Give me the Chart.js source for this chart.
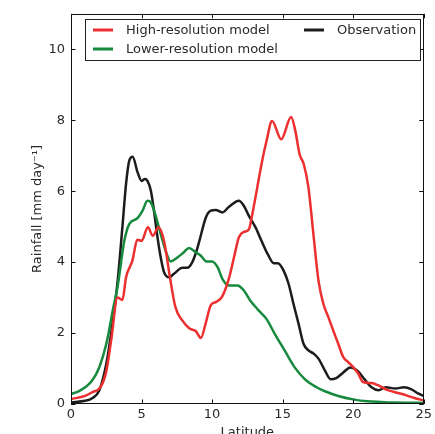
<!DOCTYPE html>
<html>
<head>
<meta charset="utf-8">
<script src="https://cdn.jsdelivr.net/npm/chart.js@4"></script>
<style>
  html, body { margin: 0; padding: 0; background: #fff; overflow: hidden; }
  #chart { display: block; width: 435px; height: 446px; }
</style>
</head>
<body>
<canvas id="chart" width="435" height="446"></canvas>
<script>
// values
const highLat = [0, 1, 1.5, 2.1, 2.5, 2.85, 3.3, 3.65, 3.9, 4.35, 4.7, 5.0, 5.45, 5.8, 6.2, 6.6, 7.05, 7.4, 7.9, 8.4, 8.85, 9.2, 9.55, 9.9, 10.3, 10.7, 11.2, 11.55, 11.9, 12.25, 12.6, 12.85, 13.2, 13.55, 13.85, 14.25, 14.9, 15.6, 15.9, 16.2, 16.5, 16.83, 17.18, 17.54, 17.89, 18.24, 18.59, 18.94, 19.3, 19.65, 20.0, 20.35, 20.7, 21.3, 21.76, 22.46, 23.4, 24.34, 25];
const highRain = [0.14, 0.23, 0.33, 0.48, 0.92, 1.8, 3.0, 2.93, 3.57, 4.04, 4.63, 4.6, 4.98, 4.74, 4.98, 4.58, 3.48, 2.73, 2.35, 2.13, 2.05, 1.86, 2.28, 2.78, 2.88, 3.02, 3.55, 4.13, 4.7, 4.85, 4.92, 5.35, 6.1, 6.86, 7.4, 7.98, 7.46, 8.09, 7.7, 7.04, 6.76, 6.1, 4.79, 3.48, 2.82, 2.45, 2.07, 1.7, 1.32, 1.18, 1.04, 0.86, 0.62, 0.59, 0.53, 0.39, 0.29, 0.17, 0.1];

const lowLat = [0, 0.5, 1, 1.5, 2, 2.5, 3, 3.3, 3.78, 4.13, 4.72, 5.07, 5.42, 5.66, 6.0, 6.35, 6.83, 7.06, 7.54, 8.0, 8.36, 8.83, 9.2, 9.6, 10.0, 10.4, 10.73, 11.2, 11.8, 12.25, 12.7, 13.3, 13.85, 14.44, 15.14, 15.84, 16.55, 17.37, 18, 19, 20, 21, 22, 23, 24, 25];
const lowRain = [0.28, 0.35, 0.47, 0.66, 1.03, 1.69, 2.72, 3.3, 4.6, 5.07, 5.24, 5.45, 5.73, 5.68, 5.31, 4.8, 4.18, 4.02, 4.13, 4.28, 4.4, 4.28, 4.18, 4.02, 4.02, 3.85, 3.53, 3.34, 3.34, 3.2, 2.92, 2.64, 2.4, 1.98, 1.51, 1.04, 0.71, 0.48, 0.36, 0.22, 0.13, 0.075, 0.056, 0.04, 0.035, 0.03];

const obsLat = [0, 1, 1.5, 2, 2.5, 2.84, 3.31, 3.66, 3.9, 4.13, 4.37, 4.72, 5.0, 5.23, 5.42, 5.66, 5.85, 6.13, 6.36, 6.6, 6.95, 7.3, 7.89, 8.24, 8.6, 8.9, 9.1, 9.56, 9.91, 10.26, 10.73, 11.2, 11.9, 12.25, 12.6, 13.08, 13.5, 14.0, 14.37, 14.67, 15.07, 15.42, 15.77, 16.13, 16.48, 16.83, 17.2, 17.54, 18.0, 18.4, 18.8, 19.3, 19.8, 20.3, 20.8, 21.3, 21.8, 22.3, 23.0, 23.6, 24.1, 24.6, 25];
const obsRain = [0.05, 0.09, 0.16, 0.38, 1.13, 1.98, 3.48, 5.07, 6.2, 6.86, 6.97, 6.53, 6.29, 6.34, 6.29, 6.01, 5.54, 4.7, 4.13, 3.71, 3.57, 3.67, 3.84, 3.84, 4.0, 4.32, 4.6, 5.26, 5.45, 5.47, 5.4, 5.56, 5.73, 5.59, 5.31, 4.98, 4.6, 4.18, 3.97, 3.97, 3.76, 3.39, 2.82, 2.26, 1.7, 1.51, 1.42, 1.28, 0.94, 0.7, 0.73, 0.89, 1.03, 0.94, 0.7, 0.47, 0.39, 0.47, 0.44, 0.47, 0.42, 0.3, 0.23];

const seriesNames = ['High-resolution model', 'Lower-resolution model', 'Observation'];
const RED = '#ec2f2f', GREEN = '#178a3e', BLACK = '#1c1c1c';
const FONT = 'DejaVu Sans';
const TXT = '#2a2a2a';

const pts = (xs, ys) => xs.map((x, i) => ({ x, y: ys[i] }));

// frame + inward ticks on all four sides, like the matplotlib original
const framePlugin = {
  id: 'frame',
  afterDatasetsDraw(chart) {
    const { ctx, chartArea: a, scales } = chart;
    const len = 4.5;
    ctx.save();
    ctx.strokeStyle = '#111';
    ctx.lineWidth = 1;
    ctx.beginPath();
    scales.x.ticks.forEach(t => {
      const px = Math.round(scales.x.getPixelForValue(t.value)) + 0.5;
      ctx.moveTo(px, a.bottom); ctx.lineTo(px, a.bottom - len);
      ctx.moveTo(px, a.top); ctx.lineTo(px, a.top + len);
    });
    scales.y.ticks.forEach(t => {
      const py = Math.round(scales.y.getPixelForValue(t.value)) + 0.5;
      ctx.moveTo(a.left, py); ctx.lineTo(a.left + len, py);
      ctx.moveTo(a.right, py); ctx.lineTo(a.right - len, py);
    });
    ctx.stroke();
    ctx.strokeRect(Math.round(a.left) + 0.5, Math.round(a.top) + 0.5,
                   Math.round(a.right - a.left) - 1, Math.round(a.bottom - a.top) - 1);
    ctx.restore();
  }
};

// two-column legend box in the upper part of the plot
const legendPlugin = {
  id: 'boxLegend',
  afterDraw(chart) {
    const { ctx, data } = chart;
    const box = { x: 85.5, y: 19.5, w: 335, h: 41 };
    const slots = [
      { lx: 93, tx: 126, y: 30 },
      { lx: 93, tx: 126, y: 49 },
      { lx: 304, tx: 337, y: 30 }
    ];
    ctx.save();
    ctx.fillStyle = '#fff';
    ctx.fillRect(box.x, box.y, box.w, box.h);
    ctx.strokeStyle = '#222';
    ctx.lineWidth = 1;
    ctx.strokeRect(box.x, box.y, box.w, box.h);
    ctx.font = `13px "${FONT}"`;
    ctx.textBaseline = 'middle';
    data.datasets.forEach((ds, i) => {
      const s = slots[i];
      ctx.strokeStyle = ds.borderColor;
      ctx.lineWidth = 3;
      ctx.beginPath();
      ctx.moveTo(s.lx, s.y); ctx.lineTo(s.lx + 20, s.y);
      ctx.stroke();
      ctx.fillStyle = TXT;
      ctx.fillText(ds.label, s.tx, s.y + 0.5);
    });
    ctx.restore();
  }
};

const lineStyle = color => ({
  borderColor: color,
  backgroundColor: color,
  borderWidth: 2.5,
  pointRadius: 0,
  fill: false,
  cubicInterpolationMode: 'monotone'
});

new Chart(document.getElementById('chart'), {
  type: 'line',
  data: {
    datasets: [
      { label: seriesNames[0], data: pts(highLat, highRain), ...lineStyle(RED) },
      { label: seriesNames[1], data: pts(lowLat, lowRain), ...lineStyle(GREEN) },
      { label: seriesNames[2], data: pts(obsLat, obsRain), ...lineStyle(BLACK) }
    ]
  },
  options: {
    responsive: false,
    animation: false,
    layout: { padding: { left: 0, top: 13, right: 9, bottom: 0 } },
    plugins: { legend: { display: false }, tooltip: { enabled: false } },
    scales: {
      x: {
        type: 'linear', min: 0, max: 25,
        grid: { display: false, drawTicks: false },
        border: { display: false },
        ticks: { stepSize: 5, padding: 3, color: TXT, font: { family: FONT, size: 13 }, maxRotation: 0 },
        title: { display: true, text: 'Latitude', color: TXT, font: { family: FONT, size: 13 }, padding: { top: 0, bottom: 6 } },
        afterFit: s => { s.height = 42; }
      },
      y: {
        type: 'linear', min: 0, max: 11,
        grid: { display: false, drawTicks: false },
        border: { display: false },
        ticks: { stepSize: 2, padding: 6, color: TXT, font: { family: FONT, size: 13 } },
        afterBuildTicks: s => { s.ticks = s.ticks.filter(t => t.value % 2 === 0); },
        title: { display: true, text: 'Rainfall [mm day⁻¹]', color: TXT, font: { family: FONT, size: 13 }, padding: { top: 30, bottom: 0 } },
        afterFit: s => { s.width = 71; }
      }
    }
  },
  plugins: [framePlugin, legendPlugin]
});
</script>
</body>
</html>
